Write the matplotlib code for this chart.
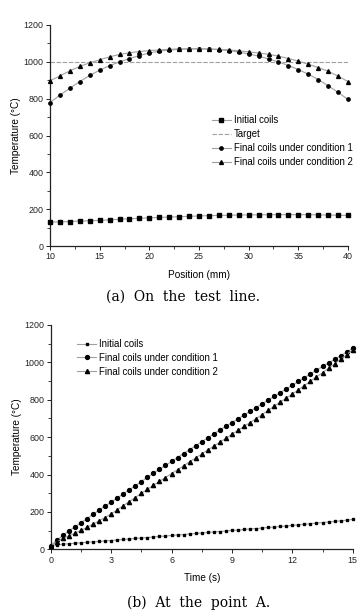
import matplotlib
matplotlib.use("Agg")
import matplotlib.pyplot as plt
from matplotlib.ticker import MultipleLocator

plt.rcParams['font.family'] = ['Liberation Sans', 'DejaVu Sans']

# ---------- (a) On the test line ----------
position = list(range(10, 41))
init_a = [130, 131, 133, 135, 137, 139, 142, 145, 148, 150, 153, 155, 157, 159, 161, 163,
          165, 166, 167, 168, 169, 169, 170, 170, 170, 170, 170, 169, 168, 167, 166]
target_a = [1000] * 31
cond1_a = [779, 819, 857, 893, 926, 955, 979, 1000, 1018, 1034, 1048, 1058, 1064, 1068, 1070, 1070,
           1069, 1066, 1061, 1053, 1043, 1031, 1016, 1000, 980, 958, 933, 904, 870, 834, 796]
cond2_a = [897, 924, 951, 975, 995, 1011, 1027, 1040, 1049, 1056, 1061, 1065, 1068, 1070, 1071, 1071,
           1070, 1068, 1065, 1060, 1054, 1048, 1041, 1031, 1018, 1004, 987, 969, 949, 922, 893]

# ---------- (b) At the point A ----------
time_b = [round(0.3 * i, 1) for i in range(51)]
init_b = [20, 24, 27, 30, 32, 35, 37, 40, 42, 45, 47, 50, 53, 55, 58, 61, 63, 66, 69, 71, 74,
          77, 79, 82, 85, 87, 90, 93, 95, 98, 101, 103, 106, 109, 111, 114, 117, 119, 122, 125, 128,
          131, 134, 137, 140, 143, 146, 149, 152, 156, 160]
cond1_b = [20, 48, 74, 98, 120, 142, 164, 187, 209, 231, 252, 274, 296, 318, 340, 362, 385, 407,
           428, 449, 470, 491, 512, 533, 554, 575, 596, 617, 638, 658, 678, 698, 718, 738, 758, 778,
           798, 818, 838, 858, 878, 898, 918, 938, 958, 978, 997, 1016, 1036, 1055, 1075]
cond2_b = [20, 40, 58, 72, 86, 101, 117, 134, 152, 170, 189, 211, 233, 255, 277, 299, 320, 342,
           363, 384, 405, 426, 447, 468, 489, 510, 531, 552, 573, 594, 615, 636, 657, 678, 699, 721,
           743, 765, 787, 809, 831, 853, 876, 899, 922, 945, 968, 992, 1016, 1041, 1068]

labels_a = ["Initial coils", "Target", "Final coils under condition 1", "Final coils under condition 2"]
labels_b = ["Initial coils", "Final coils under condition 1", "Final coils under condition 2"]

W, H = 360, 613
fig = plt.figure(figsize=(W / 100, H / 100), dpi=100)

LC = '#a0a0a0'
LW = 0.8
TICK_FS = 6.4
LAB_FS = 7.2
LEG_FS = 6.9


def style(ax):
    for s in ('top', 'right'):
        ax.spines[s].set_visible(False)
    for s in ('left', 'bottom'):
        ax.spines[s].set_linewidth(0.9)
        ax.spines[s].set_color('#222222')
    ax.tick_params(which='major', direction='out', length=3, width=0.7, labelsize=TICK_FS,
                   pad=1.5, colors='#222222')
    ax.tick_params(which='minor', direction='out', length=2, width=0.6, colors='#222222')


# top axes
ax1 = fig.add_axes([50 / W, 1 - 246 / H, 298 / W, 221 / H])
ax1.plot(position, init_a, color=LC, lw=LW, marker='s', ms=2.6, mfc='black', mec='black',
         label=labels_a[0], clip_on=False, zorder=3)
ax1.plot(position, target_a, color=LC, lw=LW, ls=(0, (4, 1.5)), label=labels_a[1], zorder=2)
ax1.plot(position, cond1_a, color=LC, lw=LW, marker='o', ms=2.4, mfc='black', mec='black',
         label=labels_a[2], clip_on=False, zorder=3)
ax1.plot(position, cond2_a, color=LC, lw=LW, marker='^', ms=2.8, mfc='black', mec='black',
         label=labels_a[3], clip_on=False, zorder=3)
ax1.set_xlim(10, 40)
ax1.set_ylim(0, 1200)
ax1.xaxis.set_major_locator(MultipleLocator(5))
ax1.xaxis.set_minor_locator(MultipleLocator(2.5))
ax1.yaxis.set_major_locator(MultipleLocator(200))
ax1.yaxis.set_minor_locator(MultipleLocator(100))
style(ax1)
ax1.set_xlabel("Position (mm)", fontsize=LAB_FS, labelpad=6)
ax1.set_ylabel("Temperature (°C)", fontsize=LAB_FS, labelpad=2)
ax1.legend(loc='upper left', bbox_to_anchor=(0.53, 0.61), frameon=False, fontsize=LEG_FS,
           handlelength=2.0, handletextpad=0.3, labelspacing=0.42, borderaxespad=0, numpoints=1)

# bottom axes
ax2 = fig.add_axes([50.7 / W, 1 - 549.3 / H, 302 / W, 224.3 / H])
ax2.plot(time_b, init_b, color=LC, lw=LW, marker='s', ms=2.0, mfc='black', mec='black',
         label=labels_b[0], clip_on=False, zorder=3)
ax2.plot(time_b, cond1_b, color=LC, lw=LW, marker='o', ms=2.8, mfc='black', mec='black',
         label=labels_b[1], clip_on=False, zorder=3)
ax2.plot(time_b, cond2_b, color=LC, lw=LW, marker='^', ms=3.0, mfc='black', mec='black',
         label=labels_b[2], clip_on=False, zorder=3)
ax2.set_xlim(0, 15)
ax2.set_ylim(0, 1200)
ax2.xaxis.set_major_locator(MultipleLocator(3))
ax2.xaxis.set_minor_locator(MultipleLocator(1.5))
ax2.yaxis.set_major_locator(MultipleLocator(200))
ax2.yaxis.set_minor_locator(MultipleLocator(100))
style(ax2)
ax2.set_xlabel("Time (s)", fontsize=LAB_FS, labelpad=6)
ax2.set_ylabel("Temperature (°C)", fontsize=LAB_FS, labelpad=2)
ax2.legend(loc='upper left', bbox_to_anchor=(0.075, 0.955), frameon=False, fontsize=LEG_FS,
           handlelength=2.0, handletextpad=0.3, labelspacing=0.4, borderaxespad=0, numpoints=1)

# captions
fig.text(183 / W, 1 - 297 / H, "(a)  On  the  test  line.", ha='center', va='center', fontsize=10,
         family=['DejaVu Serif', 'Liberation Serif'])
fig.text(199 / W, 1 - 603 / H, "(b)  At  the  point  A.", ha='center', va='center', fontsize=10,
         family=['DejaVu Serif', 'Liberation Serif'])

fig.savefig("out.png", dpi=100)
